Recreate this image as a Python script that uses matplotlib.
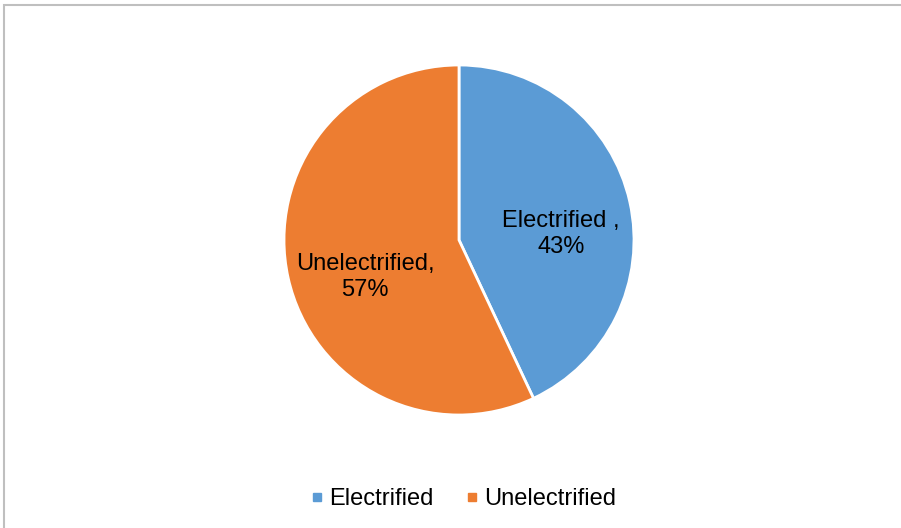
import matplotlib.pyplot as plt
import matplotlib.patches as patches
from matplotlib.lines import Line2D

categories = ["Electrified", "Unelectrified"]
shares = [43, 57]
slice_labels = ["Electrified ,\n43%", "Unelectrified,\n57%"]
colors = ["#5B9BD5", "#ED7D31"]

# where the data labels sit inside each slice (axes data units, radius = 1)
label_pos = [(0.583, 0.032), (-0.537, -0.213)]

plt.rcParams["font.family"] = ["Liberation Sans", "DejaVu Sans"]

fig = plt.figure(figsize=(9.01, 5.28), dpi=100)

# thin grey chart border (only top and left edges are visible in the original)
fig.patches.append(patches.Rectangle((4 / 901, -0.1), 1.2, 1 - 5 / 528 + 0.1,
                                     transform=fig.transFigure, fill=False,
                                     edgecolor="#BFBFBF", linewidth=1.5))

ax = fig.add_axes([284 / 901, 113 / 528, 350 / 901, 350 / 528])
wedges, texts = ax.pie(shares, labels=slice_labels, colors=colors, startangle=90,
                       counterclock=False, labeldistance=0.57,
                       wedgeprops=dict(edgecolor="white", linewidth=2))
for t, pos in zip(texts, label_pos):
    t.set_position(pos)
    t.set_ha("center")
    t.set_va("center")
    t.set_fontsize(17)
    t.set_linespacing(1.24)
ax.set_xlim(-1, 1)
ax.set_ylim(-1, 1)
ax.set_aspect("equal")
ax.axis("off")

handles = [Line2D([], [], marker="s", linestyle="", markersize=5.8, color=c) for c in colors]
fig.legend(handles, categories, loc="center", bbox_to_anchor=(463 / 901, 1 - 499 / 528),
           ncol=2, frameon=False, fontsize=17, handletextpad=0.2, columnspacing=1.35,
           handlelength=0.6)

fig.savefig("out.png", dpi=100)
